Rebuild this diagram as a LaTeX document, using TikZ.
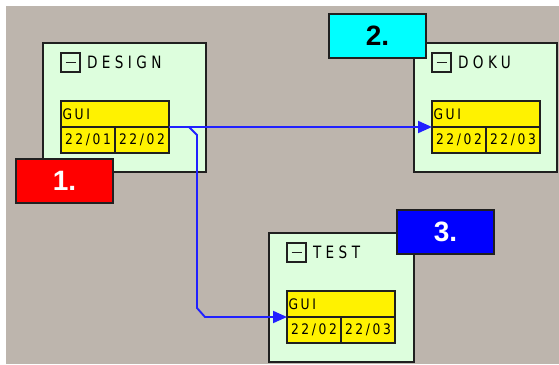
\documentclass[tikz,border=0pt]{standalone}
\usepackage{fontspec}
\setmainfont{Liberation Sans}
\newfontfamily\titlefont[LetterSpace=26,FakeStretch=0.8]{DejaVu Sans}
\newfontfamily\cellfont[LetterSpace=18,FakeStretch=0.85]{DejaVu Sans}
\usetikzlibrary{positioning,arrows.meta}
\definecolor{bggray}{HTML}{BDB5AD}
\definecolor{taskgreen}{HTML}{DDFEDD}
\definecolor{wireblue}{HTML}{2020FF}
\definecolor{edge}{HTML}{202020}
\definecolor{tagcyan}{rgb}{0,1,1}

\begin{document}
\begin{tikzpicture}[x=1pt, y=-1pt, line join=miter, every node/.style={outer sep=0pt},
	task/.style={draw=edge, line width=2pt, fill=taskgreen, minimum height=129pt, anchor=north west, inner sep=0pt},
	minusbox/.style={draw=edge, line width=1.4pt, minimum size=19pt, inner sep=0pt, anchor=north west,
		path picture={\draw[edge, line width=1.4pt] ([xshift=-5pt]path picture bounding box.center) -- ([xshift=5pt]path picture bounding box.center);}},
	title/.style={font=\titlefont\fontsize{17}{17}\selectfont, inner sep=0pt, text=black},
	cell/.style={draw=edge, line width=1.5pt, fill=yellow, anchor=north west, inner xsep=1.5pt, inner ysep=0pt, minimum height=26pt, text width=51pt, align=center, font=\cellfont\fontsize{14.5}{14.5}\selectfont},
	guicell/.style={cell, text width=105pt, align=left},
	tag/.style={draw=edge, line width=1.8pt, minimum width=97pt, minimum height=44pt, anchor=north west, inner sep=0pt, font=\bfseries\fontsize{28}{28}\selectfont},
	wire/.style={draw=wireblue, line width=1.9pt, -{Triangle[length=14pt,width=12pt]}}]
	% background
	\fill[white] (0,0) rectangle (559,364);
	\fill[bggray] (6,6) rectangle (559,364);
	\useasboundingbox (0,0) rectangle (559,364);
	% tasks
	\foreach \name/\px/\py/\w/\label/\ma/\mb in {design/43/43/163/DESIGN/01/02, doku/414/43/143/DOKU/02/03, test/269/233/145/TEST/02/03} {
		\node[task, minimum width=\w pt] (\name) at (\px,\py) {};
		\node[minusbox] (\name-minus) at ([shift={(18,10)}]\name.north west) {};
		\node[title, right=7pt of \name-minus] (\name-title) {\label};
		\node[guicell] (\name-gui) at ([shift={(18,58)}]\name.north west) {GUI};
		\node[cell] (\name-start) at (\name-gui.south west) {22/\ma};
		\node[cell] (\name-end) at (\name-start.north east) {22/\mb};
	}
	% dependencies
	\draw[wire] (design-gui.south east) -- (doku-gui.south west);
	\coordinate (split) at ([shift={(20,0)}]design-gui.south east);
	\coordinate (drop) at (split |- test-gui.south west);
	\draw[wire] (split) -- ++(8,8) -- ([shift={(8,-9)}]drop) -- ++(8,9) -- (test-gui.south west);
	% order tags
	\node[tag, fill=red, text=white] (tag-design) at (16,159) {1.};
	\node[tag, fill=tagcyan, text=black] (tag-doku) at (329,14) {2.};
	\node[tag, fill=blue, text=white] (tag-test) at (397,210) {3.};
\end{tikzpicture}
\end{document}
